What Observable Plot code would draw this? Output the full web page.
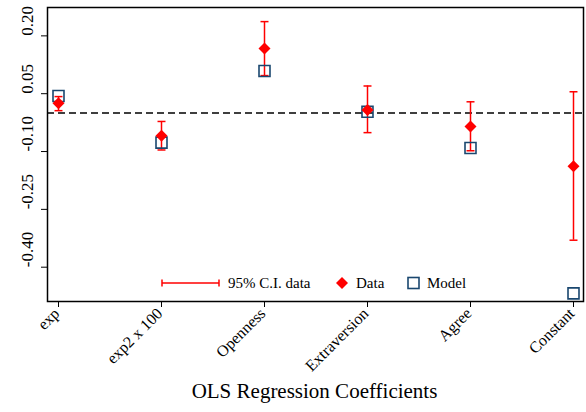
<!DOCTYPE html>
<html>
<head>
<meta charset="utf-8">
<script src="https://cdn.jsdelivr.net/npm/d3@7"></script>
<script src="https://cdn.jsdelivr.net/npm/@observablehq/plot@0.6"></script>
<style>
  html, body { margin: 0; padding: 0; background: #fff; }
  #wrap { position: relative; width: 586px; height: 412px; }
  #wrap svg text { font-family: "Liberation Serif", "Times New Roman", serif !important; }
  #legend { position: absolute; left: 0; top: 0; width: 586px; height: 412px; pointer-events: none; }
  #legend text { font-size: 15px; fill: #000; }
</style>
</head>
<body>
<div id="wrap"></div>
<script>
const categories = ["exp", "exp2 x 100", "Openness", "Extraversion", "Agree", "Constant"];
const dataCoef  = [0.025, -0.059, 0.167, 0.008, -0.035, -0.138];
const ciLow     = [0.006, -0.096, 0.097, -0.051, -0.098, -0.330];
const ciHigh    = [0.0425, -0.022, 0.237, 0.070, 0.029, 0.055];
const modelCoef = [0.044, -0.077, 0.109, 0.003, -0.091, -0.468];
const yTicks = [0.20, 0.05, -0.10, -0.25, -0.40];
const xTitle = "OLS Regression Coefficients";
const legendLabels = ["95% C.I. data", "Data", "Model"];

const rows = categories.map((c, i) => ({c, d: dataCoef[i], lo: ciLow[i], hi: ciHigh[i], m: modelCoef[i]}));

const RED = "#ff0000";
const NAVY = "#1a476f";
const FONT = "Liberation Serif";

const capSymbol = {
  draw(ctx, size) {
    const w = Math.sqrt(size) / 2;
    ctx.moveTo(-w, 0);
    ctx.lineTo(w, 0);
  }
};

const chart = Plot.plot({
  width: 586,
  height: 412,
  marginLeft: 47,
  marginRight: 3,
  marginTop: 7,
  marginBottom: 111,
  style: {fontFamily: FONT, background: "#fff", color: "#000"},
  x: {type: "point", domain: categories, padding: 0.1},
  y: {domain: [-0.489, 0.2736]},
  marks: [
    Plot.ruleY([0], {stroke: "#000", strokeDasharray: "7,4", strokeWidth: 1.3}),
    Plot.ruleX(rows, {x: "c", y1: "lo", y2: "hi", stroke: RED, strokeWidth: 1.5}),
    Plot.dot(rows, {x: "c", y: "lo", symbol: capSymbol, r: 4.5, stroke: RED, fill: "none", strokeWidth: 1.5}),
    Plot.dot(rows, {x: "c", y: "hi", symbol: capSymbol, r: 4.5, stroke: RED, fill: "none", strokeWidth: 1.5}),
    Plot.dot(rows, {x: "c", y: "m", symbol: "square", r: 6.2, stroke: NAVY, fill: "none", strokeWidth: 1.6}),
    Plot.dot(rows, {x: "c", y: "d", symbol: "diamond2", r: 5.4, fill: RED, stroke: "none"}),
    Plot.frame({stroke: "#000", strokeWidth: 1.5}),
    Plot.axisY({ticks: yTicks, tickSize: 6, tickFormat: () => "", label: null, stroke: "#000"}),
    Plot.text(yTicks, {y: d => d, frameAnchor: "left", dx: -20, rotate: -90, text: d => d.toFixed(2), fontSize: 17, fontFamily: FONT, fill: "#000"}),
    Plot.axisX({tickSize: 6, tickFormat: () => "", label: null, stroke: "#000"}),
    Plot.text(categories, {x: d => d, frameAnchor: "bottom", rotate: -45, textAnchor: "end", dy: 13, dx: 2, fontSize: 16, fontFamily: FONT, fill: "#000"}),
    Plot.text([xTitle], {frameAnchor: "bottom", dx: -1, dy: 96, fontSize: 21, fontFamily: FONT, fill: "#000"})
  ]
});

const wrap = document.getElementById("wrap");
wrap.appendChild(chart);

// Legend overlay
const lg = d3.select(wrap).append("svg").attr("id", "legend").attr("width", 586).attr("height", 412);
const ly = 283;
lg.append("line").attr("x1", 162).attr("x2", 219).attr("y1", ly).attr("y2", ly).attr("stroke", RED).attr("stroke-width", 1.5);
lg.append("line").attr("x1", 162).attr("x2", 162).attr("y1", ly - 3.5).attr("y2", ly + 3.5).attr("stroke", RED).attr("stroke-width", 1.5);
lg.append("line").attr("x1", 219).attr("x2", 219).attr("y1", ly - 3.5).attr("y2", ly + 3.5).attr("stroke", RED).attr("stroke-width", 1.5);
lg.append("text").attr("x", 228).attr("y", ly).attr("dy", "0.35em").text(legendLabels[0]);
lg.append("path").attr("d", d3.symbol(d3.symbolDiamond2, 92)()).attr("transform", `translate(342,${ly})`).attr("fill", RED);
lg.append("text").attr("x", 356).attr("y", ly).attr("dy", "0.35em").text(legendLabels[1]);
lg.append("rect").attr("x", 408).attr("y", ly - 5.5).attr("width", 11).attr("height", 11).attr("fill", "none").attr("stroke", NAVY).attr("stroke-width", 1.6);
lg.append("text").attr("x", 427).attr("y", ly).attr("dy", "0.35em").text(legendLabels[2]);
</script>
</body>
</html>
